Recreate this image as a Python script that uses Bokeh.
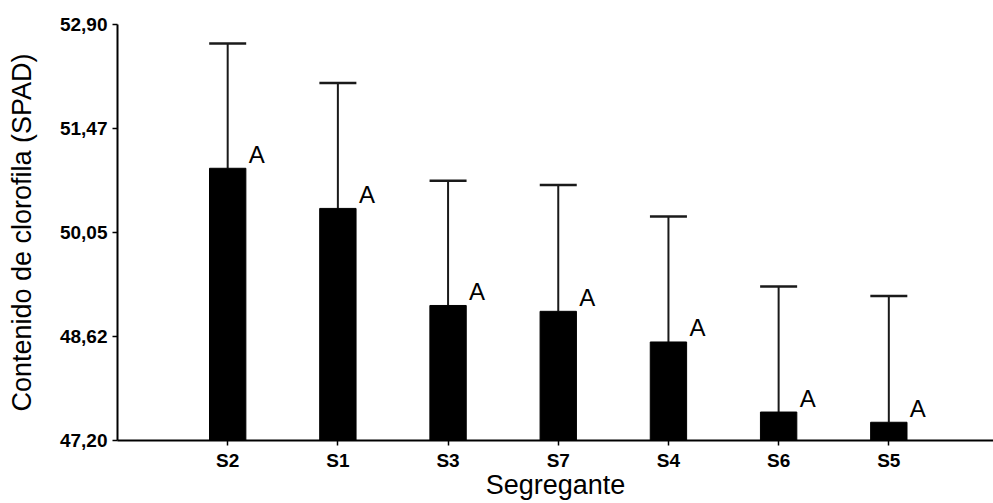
from bokeh.plotting import figure
from bokeh.models import Range1d, FixedTicker, Whisker, TeeHead, ColumnDataSource
from bokeh.core.properties import value
from bokeh.embed import file_html
from bokeh.resources import INLINE

categories = ["S2", "S1", "S3", "S7", "S4", "S6", "S5"]
means = [50.93, 50.38, 49.05, 48.97, 48.55, 47.59, 47.45]
sd = [1.71, 1.72, 1.71, 1.73, 1.72, 1.72, 1.73]
letters = ["A", "A", "A", "A", "A", "A", "A"]
ytick_vals = [47.20, 48.625, 50.05, 51.475, 52.90]
ytick_labels = ["47,20", "48,62", "50,05", "51,47", "52,90"]
y_base = 47.20
x_title = "Segregante"
y_title = "Contenido de clorofila (SPAD)"

xpos = list(range(len(categories)))
upper = [m + s for m, s in zip(means, sd)]
src = ColumnDataSource(dict(x=xpos, mean=means, upper=upper, letter=letters,
                            base=[y_base] * len(xpos)))

FONT = "Liberation Sans"

p = figure(width=993, height=503, output_backend="svg", toolbar_location=None,
           x_range=Range1d(-1.0, 6.95), y_range=Range1d(ytick_vals[0], ytick_vals[-1]),
           min_border_left=117, min_border_top=24, min_border_right=0, min_border_bottom=63)
p.xgrid.visible = False
p.ygrid.visible = False
p.outline_line_color = None
p.background_fill_color = "white"

p.vbar(x="x", bottom="base", top="mean", width=0.33, source=src,
       fill_color="black", line_color="black")

w = Whisker(source=src, base="x", upper="upper", lower="mean",
            line_color="#1a1a1a", line_width=2,
            upper_head=TeeHead(size=37, line_color="#1a1a1a", line_width=2.5),
            lower_head=None)
p.add_layout(w)

p.text(x="x", y="mean", text="letter", source=src, x_offset=21, y_offset=-14,
       text_align="left", text_baseline="alphabetic", text_font=value(FONT),
       text_font_size="24px", text_color="black")

# y axis
p.yaxis.ticker = FixedTicker(ticks=ytick_vals)
p.yaxis.major_label_overrides = {v: l for v, l in zip(ytick_vals, ytick_labels)}
p.yaxis.axis_label = y_title

# x axis
p.xaxis.ticker = FixedTicker(ticks=xpos)
p.xaxis.major_label_overrides = {i: c for i, c in zip(xpos, categories)}
p.xaxis.axis_label = x_title

for ax in (p.xaxis[0], p.yaxis[0]):
    ax.axis_line_width = 2
    ax.axis_line_color = "black"
    ax.major_tick_line_color = "black"
    ax.major_tick_line_width = 1.5
    ax.major_tick_out = 5
    ax.major_tick_in = 0
    ax.minor_tick_out = 0
    ax.minor_tick_in = 0
    ax.major_label_text_font = FONT
    ax.major_label_text_font_style = "bold"
    ax.major_label_text_color = "black"
    ax.axis_label_text_font = FONT
    ax.axis_label_text_font_style = "normal"
    ax.axis_label_text_font_size = "27px"
    ax.axis_label_text_color = "black"

p.yaxis.major_label_text_font_size = "19px"
p.xaxis.major_label_text_font_size = "19px"
p.yaxis.major_label_standoff = 5
p.xaxis.major_label_standoff = 4
p.yaxis.axis_label_standoff = 20
p.xaxis.axis_label_standoff = -4

open("out.html", "w").write(file_html(p, INLINE))
